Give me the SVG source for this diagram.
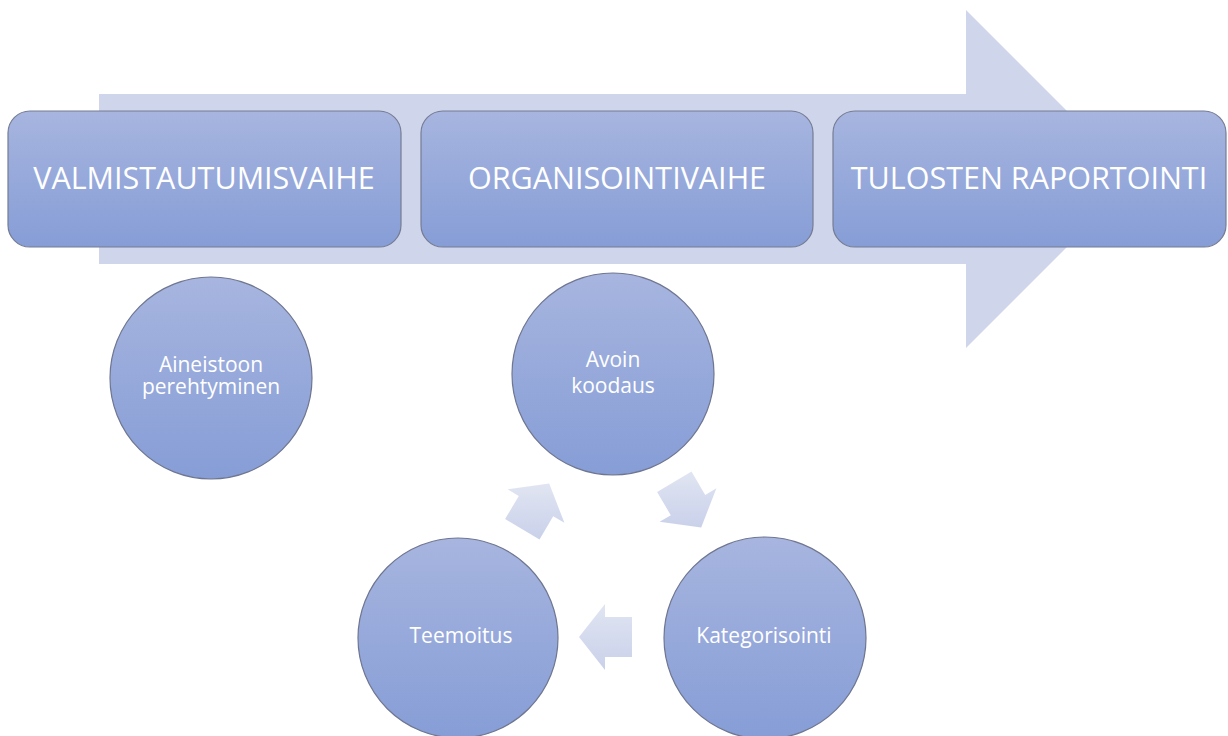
<svg xmlns="http://www.w3.org/2000/svg" width="1228" height="736" viewBox="0 0 1228 736">
  <defs>
    <linearGradient id="nodeFill" x1="0" y1="0" x2="0" y2="1">
      <stop offset="0" stop-color="#a7b5df"/>
      <stop offset="1" stop-color="#869dd6"/>
    </linearGradient>
    <linearGradient id="cycleFill" x1="0" y1="0" x2="0" y2="1">
      <stop offset="0" stop-color="#e1e5f2"/>
      <stop offset="1" stop-color="#c9d1ea"/>
    </linearGradient>
    <style>
      .box { fill: url(#nodeFill); stroke: #757c94; stroke-width: 1.2; }
      .circ { fill: url(#nodeFill); stroke: #6f7690; stroke-width: 1.2; }
      .big { font-family: "Open Sans", "Liberation Sans", sans-serif; font-size: 30.5px; fill: #ffffff; text-anchor: middle; }
      .small { font-family: "Open Sans", "Liberation Sans", sans-serif; font-size: 21px; fill: #ffffff; text-anchor: middle; }
      .cycle { fill: url(#cycleFill); }
    </style>
  </defs>
  <rect width="1228" height="736" fill="#ffffff"/>

  <!-- process backdrop arrow -->
  <polygon id="process-arrow" fill="#cfd5ea" points="99,94 966,94 966,10 1135,179 966,348 966,264 99,264"/>

  <!-- phase boxes -->
  <g id="valmistautumisvaihe">
    <rect class="box" x="8" y="111" width="393" height="136" rx="22"/>
    <text class="big" x="204" y="189">VALMISTAUTUMISVAIHE</text>
  </g>
  <g id="organisointivaihe">
    <rect class="box" x="421" y="111" width="392" height="136" rx="22"/>
    <text class="big" x="617" y="189">ORGANISOINTIVAIHE</text>
  </g>
  <g id="tulosten-raportointi">
    <rect class="box" x="833" y="111" width="393" height="136" rx="22"/>
    <text class="big" x="1029" y="189">TULOSTEN RAPORTOINTI</text>
  </g>

  <!-- step circles -->
  <g id="aineistoon-perehtyminen">
    <circle class="circ" cx="211" cy="378" r="101"/>
    <text class="small" x="211" y="372">Aineistoon</text>
    <text class="small" x="211" y="394">perehtyminen</text>
  </g>
  <g id="avoin-koodaus">
    <circle class="circ" cx="613" cy="374" r="101"/>
    <text class="small" x="613" y="367">Avoin</text>
    <text class="small" x="613" y="393">koodaus</text>
  </g>
  <g id="kategorisointi">
    <circle class="circ" cx="765" cy="638" r="101"/>
    <text class="small" x="764" y="643">Kategorisointi</text>
  </g>
  <g id="teemoitus">
    <circle class="circ" cx="458" cy="638" r="100"/>
    <text class="small" x="461" y="643">Teemoitus</text>
  </g>

  <!-- cycle connectors -->
  <g id="connectors">
    <polygon class="cycle" points="691.5,471.6 705.2,494.9 716.4,488.3 701.2,527.4 659.6,521.7 670.8,515.2 657.1,491.9"/>
    <polygon class="cycle" points="632,657 605,657 605,670 579,637 605,604 605,617 632,617"/>
    <polygon class="cycle" points="505.1,519.1 518.8,495.9 507.6,489.3 549.2,483.6 564.4,522.8 553.2,516.2 539.5,539.4"/>
  </g>
</svg>
